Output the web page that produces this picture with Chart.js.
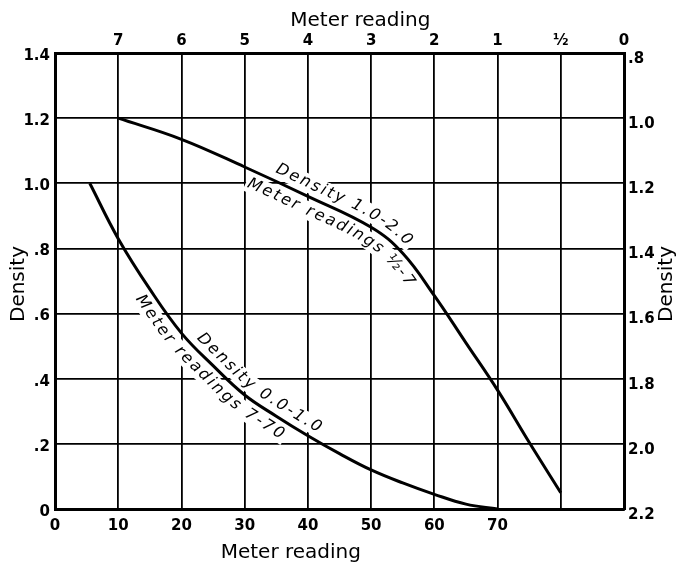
<!DOCTYPE html>
<html>
<head>
<meta charset="utf-8">
<script src="https://cdn.jsdelivr.net/npm/chart.js@4.4.0/dist/chart.umd.min.js"></script>
<style>html,body{margin:0;padding:0;background:#fff}</style>
</head>
<body>
<canvas id="chart" width="677" height="568"></canvas>
<script>
// tick labels
const bottomTicks = ['0', '10', '20', '30', '40', '50', '60', '70', '', ''];
const topTicks = ['', '7', '6', '5', '4', '3', '2', '1', '½', '0'];
const leftTicks = ['0', '.2', '.4', '.6', '.8', '1.0', '1.2', '1.4'];
const rightTicks = ['.8', '1.0', '1.2', '1.4', '1.6', '1.8', '2.0', '2.2'];

// curve for density 0.0-1.0 (meter readings 7-70)
const lowReading = [5.5, 10, 15, 20, 25, 30, 35, 40, 45, 50, 55, 60, 65, 70];
const lowDensity = [1.0, 0.83, 0.675, 0.54, 0.44, 0.35, 0.285, 0.225, 0.17, 0.12, 0.08, 0.045, 0.015, 0];

// curve for density 1.0-2.0 (meter readings 1/2-7)
const highReading = [10, 20, 30, 40, 50, 55, 60, 65, 70, 75, 80];
const highDensity = [1.2, 1.135, 1.05, 0.96, 0.865, 0.785, 0.655, 0.51, 0.365, 0.205, 0.05];

// labels written along the curves
const curveLabels = [
  { ds: 1, text: 'Density 1.0-2.0', from: 34.0, side: 1 },
  { ds: 1, text: 'Meter readings ½-7', from: 31.0, side: -1 },
  { ds: 0, text: 'Density 0.0-1.0', from: 21.4, side: 1 },
  { ds: 0, text: 'Meter readings 7-70', from: 15.0, side: -1 }
];

const tickFont = { family: 'DejaVu Sans', size: 15, weight: 'bold' };

function toPoints(xs, ys) {
  return xs.map((x, i) => ({ x: x, y: ys[i] }));
}

// samples the drawn bezier line of a dataset, shifted sideways by off pixels
function offsetPath(chart, dsIndex, off) {
  const els = chart.getDatasetMeta(dsIndex).data;
  const base = [];
  for (let i = 1; i < els.length; i++) {
    const a = els[i - 1], b = els[i];
    const c1x = a.cp2x ?? a.x, c1y = a.cp2y ?? a.y, c2x = b.cp1x ?? b.x, c2y = b.cp1y ?? b.y;
    for (let k = (i === 1 ? 0 : 1); k <= 24; k++) {
      const t = k / 24, u = 1 - t;
      base.push({
        x: u * u * u * a.x + 3 * u * u * t * c1x + 3 * u * t * t * c2x + t * t * t * b.x,
        y: u * u * u * a.y + 3 * u * u * t * c1y + 3 * u * t * t * c2y + t * t * t * b.y
      });
    }
  }
  return base.map((p, i) => {
    const q = base[Math.max(0, i - 1)], r = base[Math.min(base.length - 1, i + 1)];
    const len = Math.hypot(r.x - q.x, r.y - q.y);
    const tx = (r.x - q.x) / len, ty = (r.y - q.y) / len;
    return { bx: p.x, x: p.x + ty * off, y: p.y - tx * off };
  });
}

function layoutAlongCurve(chart, lab) {
  const ctx = chart.ctx;
  const startPx = chart.scales.x.getPixelForValue(lab.from);
  const off = (lab.side > 0 ? 12 : 13) * lab.side;
  const path = offsetPath(chart, lab.ds, off);
  const cum = [0];
  for (let i = 1; i < path.length; i++) {
    cum.push(cum[i - 1] + Math.hypot(path[i].x - path[i - 1].x, path[i].y - path[i - 1].y));
  }
  function at(s) {
    let i = 1;
    while (i < path.length - 1 && cum[i] < s) i++;
    const a = path[i - 1], b = path[i];
    const len = cum[i] - cum[i - 1] || 1;
    const t = (s - cum[i - 1]) / len;
    return { x: a.x + (b.x - a.x) * t, y: a.y + (b.y - a.y) * t, rot: Math.atan2(b.y - a.y, b.x - a.x) };
  }
  let s = 0;
  for (let i = 0; i < path.length; i++) {
    if (path[i].bx >= startPx) { s = cum[i]; break; }
  }
  const spacing = 2.2;
  const out = [];
  for (const ch of lab.text) {
    const w = ctx.measureText(ch).width;
    const p = at(s + w / 2);
    out.push({ ch: ch, w: w, sp: spacing, x: p.x, y: p.y, rot: p.rot });
    s += w + spacing;
  }
  return out;
}

const labelsPlugin = {
  id: 'curveText',
  beforeDatasetsDraw(chart) {
    const ctx = chart.ctx;
    ctx.save();
    ctx.font = 'italic 16px "DejaVu Sans"';
    ctx.textAlign = 'center';
    ctx.textBaseline = 'middle';
    const glyphs = [];
    curveLabels.forEach(l => glyphs.push(...layoutAlongCurve(chart, l)));
    // clear the grid behind the text first, then write it
    glyphs.forEach(g => {
      ctx.save();
      ctx.translate(g.x, g.y);
      ctx.rotate(g.rot);
      ctx.fillStyle = '#fff';
      ctx.fillRect(-g.w / 2 - g.sp, -9, g.w + g.sp * 2 + 1, 18);
      ctx.restore();
    });
    glyphs.forEach(g => {
      ctx.save();
      ctx.translate(g.x, g.y);
      ctx.rotate(g.rot);
      ctx.fillStyle = '#000';
      ctx.fillText(g.ch, 0, 0);
      ctx.restore();
    });
    ctx.restore();
  },
  afterDraw(chart) {
    const ctx = chart.ctx, a = chart.chartArea, xs = chart.scales.x;
    const midY = (a.top + a.bottom) / 2 + 3;
    ctx.save();
    ctx.fillStyle = '#000';
    ctx.font = '20px "DejaVu Sans"';
    ctx.textAlign = 'center';
    ctx.textBaseline = 'middle';
    ctx.fillText('Meter reading', xs.getPixelForValue(48.3), a.top - 32);
    ctx.fillText('Meter reading', xs.getPixelForValue(37.3), a.bottom + 44);
    ctx.save();
    ctx.translate(a.left - 36, midY);
    ctx.rotate(-Math.PI / 2);
    ctx.fillText('Density', 0, 0);
    ctx.restore();
    ctx.translate(a.right + 43, midY);
    ctx.rotate(-Math.PI / 2);
    ctx.fillText('Density', 0, 0);
    ctx.restore();
  }
};

new Chart(document.getElementById('chart'), {
  type: 'line',
  data: {
    datasets: [
      { data: toPoints(lowReading, lowDensity), borderColor: '#000', borderWidth: 3, pointRadius: 0, tension: 0.4, xAxisID: 'x', yAxisID: 'y' },
      { data: toPoints(highReading, highDensity), borderColor: '#000', borderWidth: 3, pointRadius: 0, tension: 0.4, xAxisID: 'x', yAxisID: 'y' }
    ]
  },
  options: {
    responsive: false,
    animation: false,
    events: [],
    plugins: { legend: { display: false }, tooltip: { enabled: false } },
    scales: {
      x: {
        type: 'linear', position: 'bottom', min: 0, max: 90,
        afterFit: s => { s.height = 59; },
        ticks: { stepSize: 10, color: '#000', font: tickFont, padding: 8, maxRotation: 0,
          callback: v => bottomTicks[Math.round(v / 10)] },
        grid: { color: '#000', lineWidth: 1.8, drawTicks: false },
        border: { color: '#000', width: 3 }
      },
      x2: {
        type: 'linear', position: 'top', min: 0, max: 90,
        afterFit: s => { s.height = 53; },
        ticks: { stepSize: 10, color: '#000', font: tickFont, padding: 3, maxRotation: 0,
          callback: v => topTicks[Math.round(v / 10)] },
        grid: { display: false, drawTicks: false },
        border: { color: '#000', width: 3 }
      },
      y: {
        type: 'linear', position: 'left', min: 0, max: 1.4,
        afterFit: s => { s.width = 55; },
        ticks: { stepSize: 0.2, color: '#000', font: tickFont, padding: 5, labelOffset: 3,
          callback: v => leftTicks[Math.round(v / 0.2)] },
        grid: { color: '#000', lineWidth: 1.8, drawTicks: false },
        border: { color: '#000', width: 3 }
      },
      y2: {
        type: 'linear', position: 'right', min: 0.8, max: 2.2, reverse: true,
        afterFit: s => { s.width = 53; },
        ticks: { stepSize: 0.2, color: '#000', font: tickFont, padding: 4, labelOffset: 6,
          callback: v => rightTicks[Math.round((v - 0.8) / 0.2)] },
        grid: { display: false, drawTicks: false },
        border: { color: '#000', width: 3 }
      }
    }
  },
  plugins: [labelsPlugin]
});
</script>
</body>
</html>
